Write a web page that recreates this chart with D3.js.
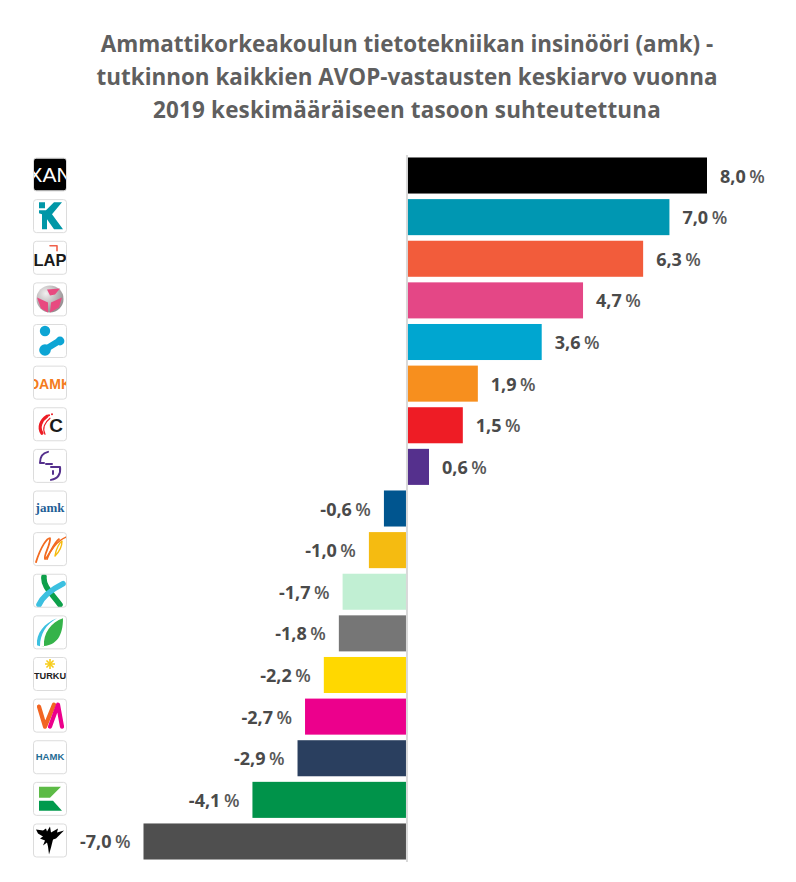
<!DOCTYPE html>
<html><head><meta charset="utf-8">
<script src="https://cdn.jsdelivr.net/npm/d3@7"></script>
<style>html,body{margin:0;padding:0;background:#fff}svg{display:block}</style>
</head><body><svg id="c" width="796" height="882"></svg>
<script>
const titleLines = ["Ammattikorkeakoulun tietotekniikan insinööri (amk) -","tutkinnon kaikkien AVOP-vastausten keskiarvo vuonna","2019 keskimääräiseen tasoon suhteutettuna"];
const categories = ["xan","kteal","lap","globe","dots","damk","ec","purple","jamk","script","xgreen","leaf","turku","va","hamk","kgreen","bird"];
const values = [8.0,7.0,6.3,4.7,3.6,1.9,1.5,0.6,-0.6,-1.0,-1.7,-1.8,-2.2,-2.7,-2.9,-4.1,-7.0];
const colors = ["#000000","#0097b2","#f25c3b","#e44786","#00a6d0","#f78f1e","#ee1c25","#55308d","#00558f","#f5bb11","#c1efd3","#767676","#ffd800","#ec008c","#2a3f5f","#00934a","#4f4f4f"];

const svg = d3.select("#c");
const x = d3.scaleLinear().domain([-7,8]).range([143.5,707]);
const y = d3.scaleBand().domain(categories).range([154.7,862.3]).paddingInner(0.134).paddingOuter(0.067);
const F = "'Open Sans',sans-serif";

svg.selectAll("text.t").data(titleLines).join("text").attr("class","t")
  .attr("x",407).attr("y",(d,i)=>52+i*33).attr("text-anchor","middle")
  .attr("font-family",F).attr("font-weight",700).attr("font-size",22.45).attr("fill","#5f5f5f")
  .attr("letter-spacing",(d,i)=>i===2?0.17:0)
  .text(d=>d);

svg.selectAll("rect.b").data(categories).join("rect").attr("class","b")
  .attr("x",(d,i)=>x(Math.min(0,values[i])))
  .attr("y",d=>y(d)).attr("height",y.bandwidth())
  .attr("width",(d,i)=>Math.abs(x(values[i])-x(0)))
  .attr("fill",(d,i)=>colors[i]);

svg.append("line").attr("x1",x(0)+0.5).attr("x2",x(0)+0.5).attr("y1",155).attr("y2",862)
  .attr("stroke","#d9d9d9").attr("stroke-width",2);

const num = v => v.toFixed(1).replace(".",",");
const labels = svg.selectAll("text.v").data(categories).join("text").attr("class","v")
  .attr("x",(d,i)=>values[i]>=0 ? x(values[i])+13 : x(values[i])-13)
  .attr("y",d=>y(d)+y.bandwidth()/2+7)
  .attr("text-anchor",(d,i)=>values[i]>=0?"start":"end")
  .attr("font-family",F).attr("font-weight",700).attr("font-size",18).attr("fill","#4a4a4a");
labels.append("tspan").text((d,i)=>num(values[i]));
labels.append("tspan").attr("dx",3.5).attr("font-weight",600).attr("fill","#595959").text("%");

/* logo artwork, drawn in a 34x34 tile */
const txt=(g,s,cx,cy,size,fill,fam,w)=>g.append("text").attr("x",cx).attr("y",cy).attr("text-anchor","middle")
  .attr("font-family",fam||"'Liberation Sans',sans-serif").attr("font-weight",w||700).attr("font-size",size).attr("fill",fill).text(s);
const path=(g,d,fill,stroke,sw)=>g.append("path").attr("d",d).attr("fill",fill||"none")
  .attr("stroke",stroke||"none").attr("stroke-width",sw||0).attr("stroke-linecap","round").attr("stroke-linejoin","round");
const defs = svg.append("defs");
const grad = defs.append("radialGradient").attr("id","sphere").attr("cx","35%").attr("cy","30%").attr("r","75%");
grad.append("stop").attr("offset","0%").attr("stop-color","#f2f0f0");
grad.append("stop").attr("offset","100%").attr("stop-color","#8f8a8c");
const logos = {
  xan:g=>{g.append("rect").attr("x",1).attr("y",1).attr("width",32).attr("height",32).attr("fill","#000");
    txt(g,"XAN",17,24,21,"#fff","'Liberation Sans',sans-serif",400);},
  kteal:g=>{path(g,"M6 3H12V9H6Z","#0097a7");path(g,"M6 11H13L21 3H29L19 15L30 30H21L14 20V30H9V15L6 14Z","#0097a7");},
  lap:g=>{txt(g,"LAP",17,25,16.5,"#1a1a1a");path(g,"M17 5H24V10","none","#f0604a",1.6);},
  globe:g=>{g.append("circle").attr("cx",17).attr("cy",16.5).attr("r",13.5).attr("fill","url(#sphere)");
    path(g,"M14 7L27 6L22 12L17 13Z","#e84a80");path(g,"M4 15L15 20L15 30L8 26Z","#e84a80");path(g,"M18 20L29 15L26 25L17 30Z","#e84a80");},
  dots:g=>{g.append("circle").attr("cx",12).attr("cy",7).attr("r",5.2).attr("fill","#0da5d4");
    g.append("circle").attr("cx",12).attr("cy",26).attr("r",5.8).attr("fill","#0da5d4");
    g.append("circle").attr("cx",27).attr("cy",17).attr("r",4.4).attr("fill","#0da5d4");
    path(g,"M13 25L26 17","none","#0da5d4",6.5);},
  damk:g=>{txt(g,"DAMK",17,23,14,"#f47b20");},
  ec:g=>{txt(g,"C",23,25,19,"#1a1a1a");
    path(g,"M14 9C8 13 5 20 9 26","none","#ed1c24",3.2);path(g,"M12 27C9 21 12 15 17 11","none","#ed1c24",1.2);
    g.append("circle").attr("cx",19).attr("cy",7).attr("r",1).attr("fill","#ed1c24");
    g.append("circle").attr("cx",16).attr("cy",8).attr("r",1.1).attr("fill","#ed1c24");},
  purple:g=>{path(g,"M15 3C10 4 7 8 7 14H11M13 15H19","none","#55308d",2);path(g,"M18 18H27C28 25 25 30 18 31M20 22V25","none","#55308d",2);},
  jamk:g=>{txt(g,"jamk",17,21,13,"#1f5f96","'Liberation Serif',serif");},
  script:g=>{path(g,"M3 30C8 14 14 6 17 6C18 12 10 24 12 27C15 26 21 10 26 7","none","#f26b21",1.8);
    path(g,"M14 27C17 18 24 9 33 5","none","#f26b21",1.6);path(g,"M22 24C23 16 27 10 29 9C29 15 25 21 22 24","none","#f5bb11",1.4);},
  xgreen:g=>{path(g,"M11 3C10 12 17 18 27 31","none","#0da04a",5.6);path(g,"M6 31C10 22 18 16 30 10","none","#3cc0e0",5.6);},
  leaf:g=>{path(g,"M30 3C30 20 24 31 8 31H11C10 18 18 7 30 3Z","#35b34a");path(g,"M4 30C3 18 11 8 24 3C13 9 7 19 7 31Z","#3cc0e0");},
  turku:g=>{txt(g,"TURKU",17,22,9.2,"#222");
    d3.range(8).forEach(k=>g.append("line").attr("x1",17).attr("y1",7).attr("x2",17+5*Math.cos(k*Math.PI/4)).attr("y2",7+5*Math.sin(k*Math.PI/4)).attr("stroke","#f7cc1a").attr("stroke-width",1.6));},
  va:g=>{path(g,"M6 8L12 28L21 6","none","#f26522",4.2);path(g,"M17 28L25 6L29 28","none","#ec008c",4.2);},
  hamk:g=>{txt(g,"HAMK",17,20,9.5,"#1f6c94");},
  kgreen:g=>{path(g,"M6 5H28L17 16H6Z","#5dbb46");path(g,"M6 29V19H20L29 29Z","#009a4c");},
  bird:g=>{path(g,"M3 6L10 7L13 5L14 8L17 3L18 9L25 5L24 9L31 7L26 12L23 15L20 16L18 24L16 31L15 23L14 19L10 22L12 17L7 15L10 13L5 10Z","#000");}
};

const tiles = svg.selectAll("g.logo").data(categories).join("g").attr("class","logo")
  .attr("transform",d=>`translate(33,${y(d)+y.bandwidth()/2-18})`);
tiles.each(function(d){
  const g = d3.select(this);
  defs.append("clipPath").attr("id","clip-"+d).append("rect").attr("x",0.5).attr("y",0.5).attr("width",33).attr("height",33).attr("rx",3);
  g.append("rect").attr("x",0.5).attr("y",0.5).attr("width",33).attr("height",33).attr("rx",3).attr("fill","#fff");
  logos[d](g.append("g").attr("clip-path",`url(#clip-${d})`));
  g.append("rect").attr("x",0.5).attr("y",0.5).attr("width",33).attr("height",33).attr("rx",3).attr("fill","none").attr("stroke","#dcdcdc");
});
</script></body></html>
